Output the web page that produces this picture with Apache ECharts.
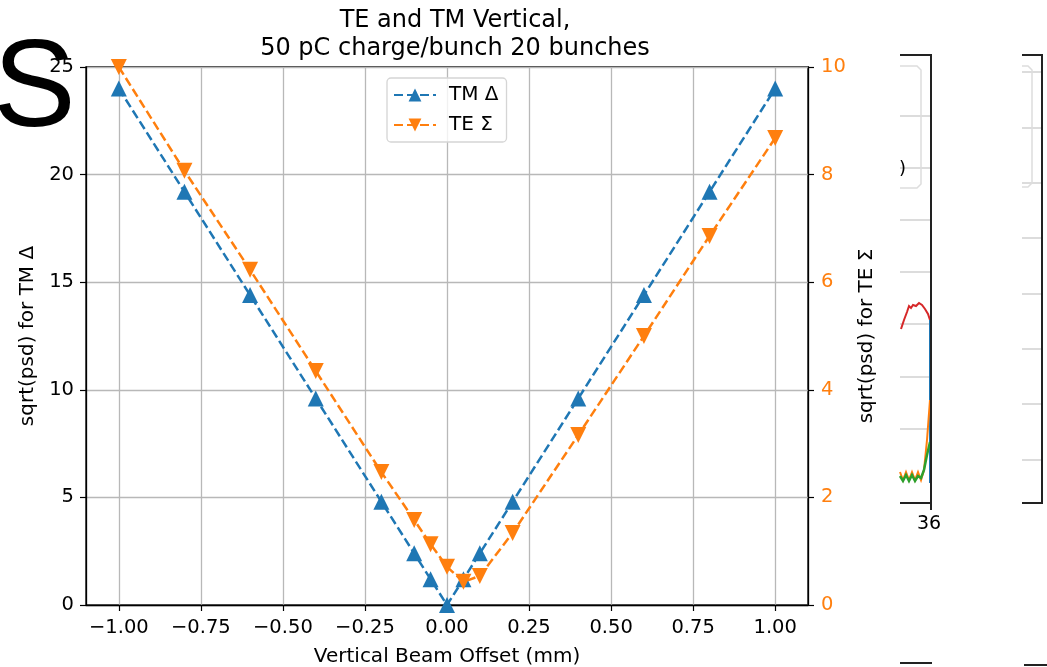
<!DOCTYPE html>
<html>
<head>
<meta charset="utf-8">
<script src="https://cdn.jsdelivr.net/npm/echarts@6/dist/echarts.min.js"></script>
<style>
html,body{margin:0;padding:0;background:#fff;}
#main{width:1047px;height:667px;}
</style>
</head>
<body>
<div id="main"></div>
<script>
// beam offsets (mm)
var xVals = [-1.0, -0.8, -0.6, -0.4, -0.2, -0.1, -0.05, 0.0, 0.05, 0.1, 0.2, 0.4, 0.6, 0.8, 1.0];
// sqrt(psd) TM delta, left axis
var tmDelta = [24.0, 19.2, 14.4, 9.6, 4.8, 2.4, 1.2, 0.0, 1.2, 2.4, 4.8, 9.6, 14.4, 19.2, 24.0];
// sqrt(psd) TE sigma, right axis
var teSigma = [10.0, 8.07, 6.23, 4.35, 2.47, 1.58, 1.13, 0.71, 0.43, 0.54, 1.34, 3.16, 5.0, 6.86, 8.68];
var xTicks = [-1.0, -0.75, -0.5, -0.25, 0.0, 0.25, 0.5, 0.75, 1.0];

var FONT = 'DejaVu Sans';
var BLUE = '#1f77b4', ORANGE = '#ff7f0e';

function pairs(xs, ys){
	var out = [];
	for (var i = 0; i < xs.length; i++) out.push([xs[i], ys[i]]);
	return out;
}
function fmt(v){
	return v.toFixed(2).replace('-', '\u2212');
}
function hline(x1, x2, y, color, w){
	return {type: 'line', shape: {x1: x1, y1: y, x2: x2, y2: y}, style: {stroke: color, lineWidth: w}};
}
function vline(x, y1, y2, color, w){
	return {type: 'line', shape: {x1: x, y1: y1, x2: x, y2: y2}, style: {stroke: color, lineWidth: w}};
}

// leftovers of the neighbouring plots that got caught in the screenshot
var deco = [
	{type: 'text', left: -7, top: 30, style: {text: 'S', font: '124px "Liberation Sans"', fill: '#000'}}
];
[116, 168, 220, 272, 324, 377, 429].forEach(function(y){ deco.push(hline(900, 931, y, '#d0d0d0', 1.5)); });
[72, 128, 183, 238, 294, 349, 404, 460].forEach(function(y){ deco.push(hline(1022, 1042, y, '#d0d0d0', 1.5)); });
deco.push(
	{type: 'polyline', shape: {points: [[900, 66], [917, 66], [921, 70], [921, 184], [917, 188], [900, 188]]}, style: {fill: 'none', stroke: '#dddddd', lineWidth: 1.5}},
	{type: 'polyline', shape: {points: [[1022, 66], [1028, 66], [1032, 70], [1032, 183], [1028, 187], [1022, 187]]}, style: {fill: 'none', stroke: '#dddddd', lineWidth: 1.5}},
	{type: 'text', left: 899, top: 160, style: {text: ')', font: '18px "DejaVu Sans"', fill: '#000'}},
	{type: 'polyline', shape: {points: [[901, 329], [904, 320], [907, 312], [909, 306], [911, 308], [913, 305], [916, 306], [919, 303], [922, 305], [925, 309], [928, 314], [930, 320]]}, style: {fill: 'none', stroke: '#d62728', lineWidth: 2}},
	vline(930, 320, 483, BLUE, 2),
	{type: 'polyline', shape: {points: [[900, 472], [903, 480], [906, 472], [909, 480], [912, 472], [915, 480], [918, 472], [921, 480], [924, 470], [927, 440], [930, 400]]}, style: {fill: 'none', stroke: ORANGE, lineWidth: 2}},
	{type: 'polyline', shape: {points: [[900, 476], [903, 481], [906, 475], [909, 481], [912, 475], [915, 481], [918, 476], [921, 478], [924, 470], [927, 455], [930, 442]]}, style: {fill: 'none', stroke: '#2ca02c', lineWidth: 2.5}},
	hline(900, 932, 503, '#222', 2),
	vline(931, 54, 510, '#222', 2),
	hline(900, 932, 55, '#222', 2),
	{type: 'text', left: 917, top: 515, style: {text: '36', font: '19px "DejaVu Sans"', fill: '#000'}},
	hline(1022, 1043, 55, '#222', 2),
	vline(1042, 54, 504, '#222', 2),
	hline(1022, 1043, 503, '#222', 2),
	hline(900, 932, 663, '#222', 2),
	hline(1024, 1047, 665, '#222', 2)
);

var chart = echarts.init(document.getElementById('main'));
var option = {
	backgroundColor: '#fff',
	animation: false,
	textStyle: {fontFamily: FONT},
	title: {
		text: 'TE and TM Vertical,\n50 pC charge/bunch 20 bunches',
		left: 450, top: 2, textAlign: 'center',
		textStyle: {fontFamily: FONT, fontSize: 24, fontWeight: 'normal', color: '#000', lineHeight: 28}
	},
	legend: {
		left: 387, top: 78,
		orient: 'vertical',
		itemWidth: 42, itemHeight: 16, itemGap: 10,
		padding: [7, 8, 7, 6],
		borderColor: '#d5d5d5', borderWidth: 1.3, borderRadius: 4,
		backgroundColor: 'rgba(255,255,255,0.8)',
		textStyle: {fontFamily: FONT, fontSize: 20, color: '#000', padding: [0, 0, 0, 8]},
		data: ['TM \u0394', 'TE \u03a3']
	},
	grid: {
		left: 86, right: 239, top: 67, bottom: 62,
		outerBoundsMode: 'none',
		show: true, borderColor: '#000', borderWidth: 1.3, backgroundColor: 'transparent'
	},
	xAxis: {
		type: 'value', min: -1.1, max: 1.1,
		name: 'Vertical Beam Offset (mm)', nameLocation: 'middle', nameGap: 42,
		nameTextStyle: {fontFamily: FONT, fontSize: 20, color: '#000'},
		axisLine: {onZero: false, lineStyle: {color: '#000', width: 1.3}},
		axisTick: {show: true, length: 6, customValues: xTicks, lineStyle: {color: '#000', width: 1.2}},
		axisLabel: {customValues: xTicks, formatter: fmt, fontFamily: FONT, fontSize: 19.5, color: '#000', margin: 13},
		splitLine: {show: true, lineStyle: {color: '#b8b8b8', width: 1.3}}
	},
	yAxis: [{
		type: 'value', min: 0, max: 25, interval: 5, position: 'left',
		name: 'sqrt(psd) for TM \u0394', nameLocation: 'middle', nameGap: 46, nameRotate: 90,
		nameTextStyle: {fontFamily: FONT, fontSize: 20, color: '#000'},
		axisLine: {show: true, onZero: false, lineStyle: {color: '#000', width: 1.3}},
		axisTick: {show: true, length: 6, lineStyle: {color: '#000', width: 1.2}},
		axisLabel: {fontFamily: FONT, fontSize: 19.5, color: '#000', margin: 12},
		splitLine: {show: true, lineStyle: {color: '#b8b8b8', width: 1.3}}
	}, {
		type: 'value', min: 0, max: 10, interval: 2, position: 'right',
		name: 'sqrt(psd) for TE \u03a3', nameLocation: 'middle', nameGap: 47, nameRotate: 90,
		nameTextStyle: {fontFamily: FONT, fontSize: 20, color: '#000'},
		axisLine: {show: true, onZero: false, lineStyle: {color: '#000', width: 1.3}},
		axisTick: {show: true, length: 6, lineStyle: {color: '#000', width: 1.2}},
		axisLabel: {fontFamily: FONT, fontSize: 19.5, color: ORANGE, margin: 13},
		splitLine: {show: false}
	}],
	series: [{
		name: 'TM \u0394', type: 'line', yAxisIndex: 0,
		data: pairs(xVals, tmDelta),
		symbol: 'triangle', symbolSize: 16,
		lineStyle: {color: BLUE, width: 2.5, type: [9, 4]},
		itemStyle: {color: BLUE}
	}, {
		name: 'TE \u03a3', type: 'line', yAxisIndex: 1,
		data: pairs(xVals, teSigma),
		symbol: 'triangle', symbolSize: 16, symbolRotate: 180,
		lineStyle: {color: ORANGE, width: 2.5, type: [9, 4]},
		itemStyle: {color: ORANGE}
	}],
	graphic: deco
};
chart.setOption(option);
</script>
</body>
</html>
